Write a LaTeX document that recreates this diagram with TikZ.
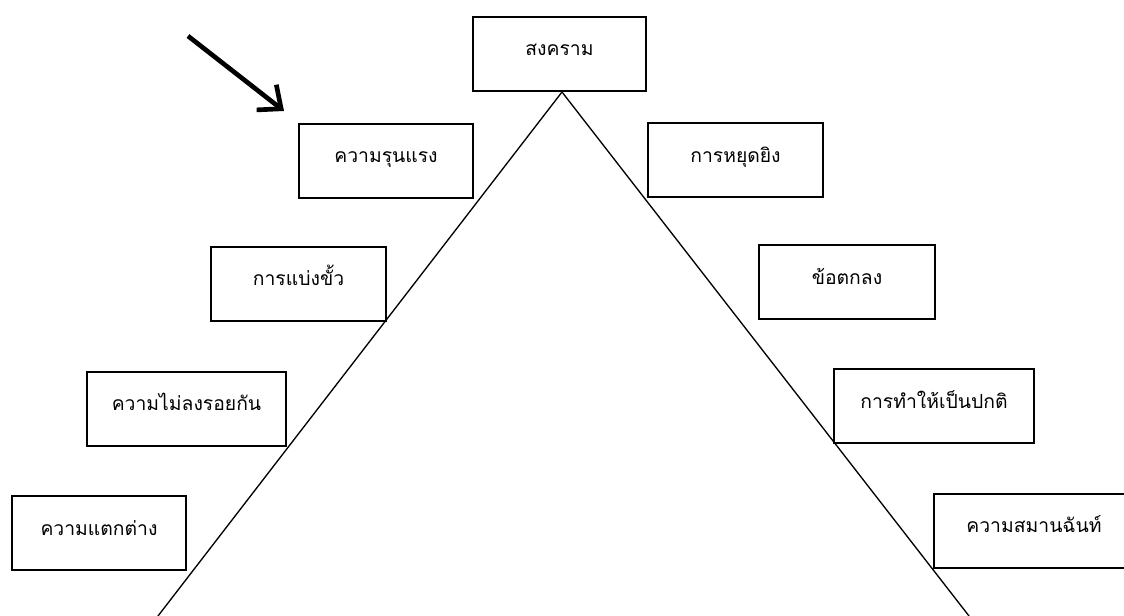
\documentclass[tikz,border=0pt]{standalone}
\usepackage{fontspec}
\newfontfamily\thaifont[Script=Thai]{Loma}
\usetikzlibrary{arrows.meta}
\tikzset{
  px/.style={x=0.75pt,y=-0.75pt},
  stagebox/.style={draw=black, line width=1.5pt, rectangle, inner sep=0pt,
    minimum height=55.5pt, font=\thaifont\fontsize{14.5}{16}\selectfont,
    text height=11pt, text depth=8pt},
  slope/.style={line width=1pt, line cap=round},
  pointer/.style={line width=3.5pt, -{Straight Barb[length=14pt, width=24pt, line width=3.5pt]}}
}
\begin{document}
\begin{tikzpicture}[px]
\useasboundingbox (0,0) rectangle (1124,616);
\begin{scope}
\clip (0,0) rectangle (1124,616);
\node[stagebox, minimum width=130pt] (war) at (559.5,54) {สงคราม};
\node[stagebox, minimum width=130.5pt] (vio) at (386,161) {ความรุนแรง};
\node[stagebox, minimum width=131pt] (pol) at (298.5,284) {การแบ่งขั้ว};
\node[stagebox, minimum width=149pt] (dis) at (186.5,409) {ความไม่ลงรอยกัน};
\node[stagebox, minimum width=130.5pt] (dif) at (99,533) {ความแตกต่าง};
\node[stagebox, minimum width=131pt] (cea) at (735.5,160.5) {การหยุดยิง};
\node[stagebox, minimum width=132pt] (agr) at (847,282.5) {ข้อตกลง};
\node[stagebox, minimum width=150pt] (nor) at (934,406) {การทำให้เป็นปกติ};
\node[stagebox, minimum width=150pt] (har) at (1034,530.5) {ความสมานฉันท์};
\coordinate (apex) at (562,92);
\coordinate (lfoot) at (158,616);
\coordinate (rfoot) at (969,616);
\draw[slope] (lfoot) -- (apex) -- (rfoot);
\coordinate (astart) at (188,36);
\coordinate (atip) at (284,111);
\draw[pointer] (astart) -- (atip);
\end{scope}
\end{tikzpicture}
\end{document}
